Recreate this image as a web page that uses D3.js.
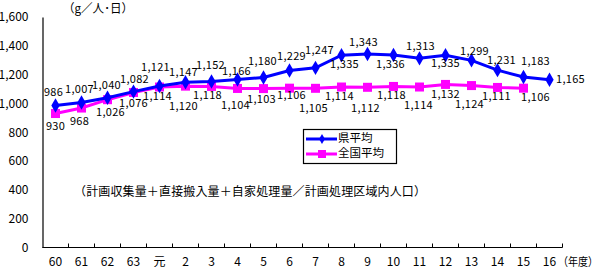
<!DOCTYPE html>
<html><head><meta charset="utf-8">
<script src="https://cdn.jsdelivr.net/npm/d3@7"></script>
<style>
body{margin:0;background:#fff;}
text{font-family:"Noto Sans CJK JP","Noto Sans",sans-serif;fill:#000;}
</style></head>
<body><svg id="c" width="605" height="278"></svg>
<script>
const categories = ["60","61","62","63","元","2","3","4","5","6","7","8","9","10","11","12","13","14","15","16"];
const prefAvg = [986,1007,1040,1082,1121,1147,1152,1166,1180,1229,1247,1335,1343,1336,1313,1335,1299,1231,1183,1165];
const natAvg  = [930,968,1026,1076,1114,1120,1118,1104,1103,1106,1105,1114,1112,1118,1114,1132,1124,1111,1106,null];
const yTicks = [0,200,400,600,800,1000,1200,1400,1600];
const seriesNames = ["県平均","全国平均"];
const unitLabel = "（g／人･日）";
const xUnit = "（年度）";
const note = "（計画収集量＋直接搬入量＋自家処理量／計画処理区域内人口）";

// label offsets (layout, relative to point)
const prefOff = [[-2,-12],[-2,-12],[-1,-12],[1,-12],[-4,-18],[-2,-9],[-1,-16],[-1,-8],[-1,-15],[2,-13],[4,-17],[3,10],[-4,-11],[-3,10],[1,-11],[0,9],[3,-8],[4,-9],[12,-15],[21,0]];
const natOff  = [[0,13],[-2,14],[3,13],[0,12],[-2,10],[-2,21],[-4,10],[-2,18],[-2,11],[2,8],[-2,21],[-2,10],[-2,22],[-2,10],[-1,19],[0,11],[-2,19],[-1,10],[12,10]];

const svg = d3.select("#c");
const x = d3.scaleBand().domain(categories).range([42.5,562.5]).padding(0);
const y = d3.scaleLinear().domain([0,1600]).range([247.5,17]);
const cx = d => x(d) + x.bandwidth()/2;

// y axis
const ya = svg.append("g").attr("transform","translate(42.5,0)")
  .call(d3.axisLeft(y).tickValues(yTicks).tickSize(0).tickSizeOuter(0).tickPadding(14).tickFormat(d3.format(",")));
ya.select(".domain").attr("stroke","#000").attr("stroke-width",1.2);
ya.selectAll("text").attr("font-size","12px").style("font-family","'Noto Sans CJK JP',sans-serif");

// x axis
const xa = svg.append("g").attr("transform","translate(0,247.5)");
xa.append("line").attr("x1",x.range()[0]).attr("x2",x.range()[1]).attr("stroke","#000").attr("stroke-width",1.2);
const bounds = categories.map(c=>x(c)).concat([x.range()[1]]).slice(1);
xa.selectAll("line.t").data(bounds).enter().append("line").attr("class","t")
  .attr("x1",d=>d).attr("x2",d=>d).attr("y1",0).attr("y2",-4).attr("stroke","#000");
xa.selectAll("text.l").data(categories).enter().append("text").attr("class","l")
  .attr("x",d=>cx(d)).attr("y",15).attr("dominant-baseline","middle").attr("text-anchor","middle")
  .attr("font-size","12px").text(d=>d);
svg.append("text").attr("x",558).attr("y",262.5).attr("dominant-baseline","middle").attr("font-size","11.5px")
  .attr("textLength",40).attr("lengthAdjust","spacingAndGlyphs").text(xUnit);
svg.append("text").attr("x",63).attr("y",10).attr("dominant-baseline","middle").attr("font-size","12px")
  .attr("textLength",70).attr("lengthAdjust","spacingAndGlyphs").text(unitLabel);
svg.append("text").attr("x",74).attr("y",193).attr("dominant-baseline","middle").attr("font-size","12px").attr("textLength",352).text(note);

// lines
const natData = categories.map((c,i)=>({c,v:natAvg[i],i})).filter(d=>d.v!=null);
const prefData = categories.map((c,i)=>({c,v:prefAvg[i],i}));
const line = d3.line().x(d=>cx(d.c)).y(d=>y(d.v));
svg.append("path").datum(natData).attr("d",line).attr("fill","none").attr("stroke","#FF00FF").attr("stroke-width",3);
svg.selectAll("rect.m").data(natData).enter().append("rect").attr("class","m")
  .attr("x",d=>cx(d.c)-4.5).attr("y",d=>y(d.v)-4.5).attr("width",9).attr("height",9).attr("fill","#FF00FF");
svg.append("path").datum(prefData).attr("d",line).attr("fill","none").attr("stroke","#0000FF").attr("stroke-width",3);
const diamond = d3.symbol().type(d3.symbolDiamond).size(60);
svg.selectAll("path.m").data(prefData).enter().append("path").attr("class","m")
  .attr("transform",d=>`translate(${cx(d.c)},${y(d.v)})`).attr("d",diamond).attr("fill","#0000FF");

// labels
const fmt = d3.format(",");
svg.selectAll("text.pl").data(prefData).enter().append("text").attr("class","pl")
  .attr("x",d=>cx(d.c)+prefOff[d.i][0]).attr("y",d=>y(d.v)+prefOff[d.i][1])
  .attr("text-anchor","middle").attr("dominant-baseline","middle").attr("font-size","11px").attr("letter-spacing","0.3px").text(d=>fmt(d.v));
svg.selectAll("text.nl").data(natData).enter().append("text").attr("class","nl")
  .attr("x",d=>cx(d.c)+natOff[d.i][0]).attr("y",d=>y(d.v)+natOff[d.i][1])
  .attr("text-anchor","middle").attr("dominant-baseline","middle").attr("font-size","11px").attr("letter-spacing","0.3px").text(d=>fmt(d.v));

// legend
const lg = svg.append("g");
lg.append("rect").attr("x",303.5).attr("y",129.5).attr("width",93).attr("height",34).attr("fill","#fff").attr("stroke","#000").attr("stroke-width",1.2);
const colors = ["#0000FF","#FF00FF"];
seriesNames.forEach((n,i)=>{
  const yy = 139 + i*15;
  lg.append("line").attr("x1",306).attr("x2",337).attr("y1",yy).attr("y2",yy).attr("stroke",colors[i]).attr("stroke-width",3);
  if(i===0) lg.append("path").attr("transform",`translate(322,${yy})`).attr("d",d3.symbol().type(d3.symbolDiamond).size(30)).attr("fill",colors[i]);
  else lg.append("rect").attr("x",318).attr("y",yy-4).attr("width",8).attr("height",8).attr("fill",colors[i]);
  lg.append("text").attr("x",338).attr("y",yy).attr("dominant-baseline","middle").attr("font-size","11.5px").text(n);
});
</script></body></html>
